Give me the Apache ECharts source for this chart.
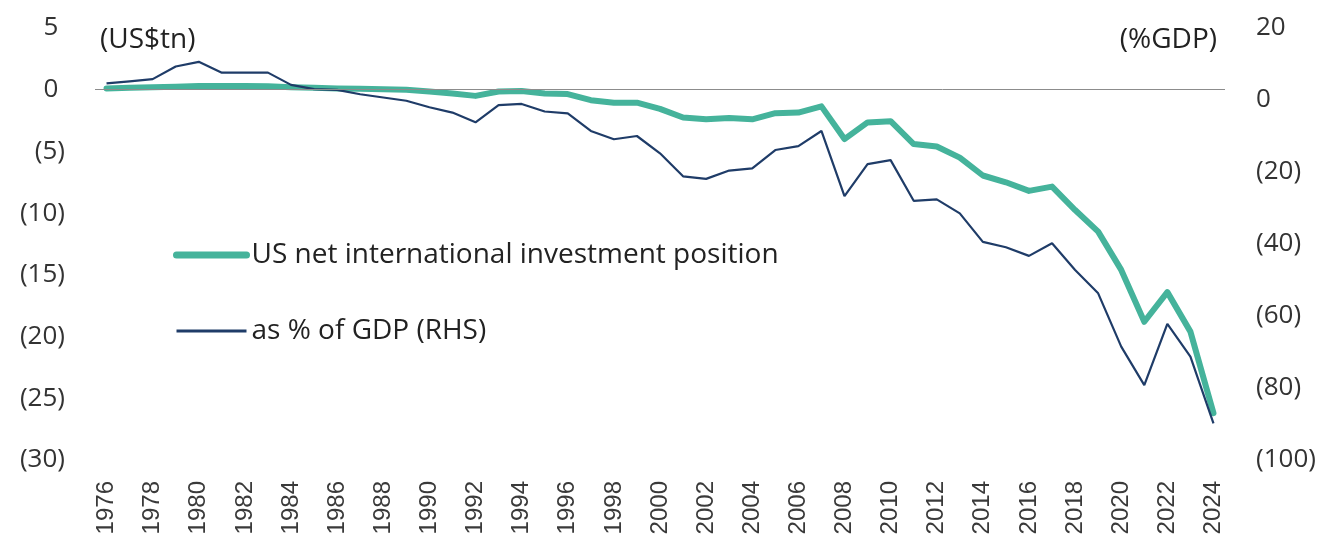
<!DOCTYPE html>
<html>
<head>
<meta charset="utf-8">
<title>US NIIP</title>
<script src="https://cdn.jsdelivr.net/npm/echarts@6/dist/echarts.min.js"></script>
<style>
  html, body { margin: 0; padding: 0; background: #fff; }
  #chart { width: 1324px; height: 543px; }
</style>
</head>
<body>
<div id="chart"></div>
<script>
// years on the x axis
var years = ['1976','1977','1978','1979','1980','1981','1982','1983','1984','1985',
    '1986','1987','1988','1989','1990','1991','1992','1993','1994','1995',
    '1996','1997','1998','1999','2000','2001','2002','2003','2004','2005',
    '2006','2007','2008','2009','2010','2011','2012','2013','2014','2015',
    '2016','2017','2018','2019','2020','2021','2022','2023','2024'];

// US net international investment position, US$tn (left axis)
var niip = [0.1, 0.15, 0.2, 0.25, 0.3, 0.3, 0.3, 0.28, 0.2, 0.15,
    0.1, 0.08, 0.03, 0.0, -0.15, -0.3, -0.5, -0.15, -0.1, -0.3,
    -0.35, -0.85, -1.05, -1.05, -1.55, -2.25, -2.4, -2.3, -2.4, -1.9,
    -1.85, -1.35, -4.0, -2.65, -2.55, -4.4, -4.6, -5.5, -6.95, -7.5,
    -8.2, -7.85, -9.75, -11.5, -14.6, -18.8, -16.4, -19.6, -26.2];

// as % of GDP (right axis)
var gdpPct = [4.6, 5.2, 5.8, 9.3, 10.6, 7.6, 7.6, 7.6, 4.2, 3.0,
    2.8, 1.6, 0.7, -0.2, -2.0, -3.5, -6.2, -1.4, -1.1, -3.2,
    -3.7, -8.6, -10.9, -10.0, -14.8, -21.2, -21.9, -19.6, -19.0, -13.9,
    -12.8, -8.6, -26.7, -17.8, -16.7, -28.0, -27.6, -31.5, -39.4, -40.9,
    -43.3, -39.8, -47.2, -53.7, -68.5, -79.2, -62.2, -71.3, -89.8];

var seriesNames = ['US net international investment position', 'as % of GDP (RHS)'];

var green = '#45b39b';
var navy = '#1f3c68';

var myChart = echarts.init(document.getElementById('chart'));

function paren(v) {
    return v < 0 ? '(' + (-v) + ')' : String(v);
}

var option = {
    animation: false,
    textStyle: { fontFamily: 'Open Sans' },
    grid: { left: 95, right: 99, top: 28, bottom: 83 },
    legend: {
        orient: 'vertical',
        left: 168,
        top: 236,
        itemWidth: 70,
        itemHeight: 28,
        itemGap: 48,
        itemStyle: { opacity: 0 },
        data: [
            { name: seriesNames[0], lineStyle: { width: 7, color: green, cap: 'round' } },
            { name: seriesNames[1], lineStyle: { width: 3, color: navy } }
        ],
        textStyle: { fontSize: 28, color: '#222', fontFamily: 'Open Sans' }
    },
    graphic: [
        { type: 'text', left: 100, top: 26, style: { text: '(US$tn)', fontSize: 28, fontFamily: 'Open Sans', fill: '#222' } },
        { type: 'text', right: 107, top: 26, style: { text: '(%GDP)', fontSize: 28, fontFamily: 'Open Sans', fill: '#222' } }
    ],
    xAxis: {
        type: 'category',
        boundaryGap: true,
        data: years,
        axisLine: { show: false },
        axisTick: { show: false },
        axisLabel: {
            interval: 1,
            rotate: 90,
            margin: 21,
            fontSize: 24,
            color: '#3a3a3a',
            fontFamily: 'Liberation Sans'
        }
    },
    yAxis: [
        {
            type: 'value',
            min: -30,
            max: 5,
            interval: 5,
            splitLine: { show: false },
            axisLine: { show: false },
            axisTick: { show: false },
            axisLabel: {
                margin: 30,
                fontSize: 26,
                color: '#333',
                formatter: function (v) { return v < 0 ? paren(v) : v + ' '; }
            }
        },
        {
            type: 'value',
            min: -100,
            max: 20,
            interval: 20,
            splitLine: { show: false },
            axisLine: { show: false },
            axisTick: { show: false },
            axisLabel: {
                margin: 31,
                fontSize: 26,
                color: '#333',
                formatter: paren
            }
        }
    ],
    series: [
        {
            name: seriesNames[0],
            type: 'line',
            yAxisIndex: 0,
            data: niip,
            symbol: 'none',
            color: green,
            lineStyle: { width: 6, color: green, cap: 'round', join: 'round' },
            markLine: {
                silent: true,
                symbol: 'none',
                label: { show: false },
                lineStyle: { color: '#8c8c8c', width: 1, type: 'solid' },
                data: [{ yAxis: 0 }]
            }
        },
        {
            name: seriesNames[1],
            type: 'line',
            yAxisIndex: 1,
            data: gdpPct,
            symbol: 'none',
            color: navy,
            lineStyle: { width: 2.2, color: navy }
        }
    ]
};

myChart.setOption(option);
</script>
</body>
</html>
